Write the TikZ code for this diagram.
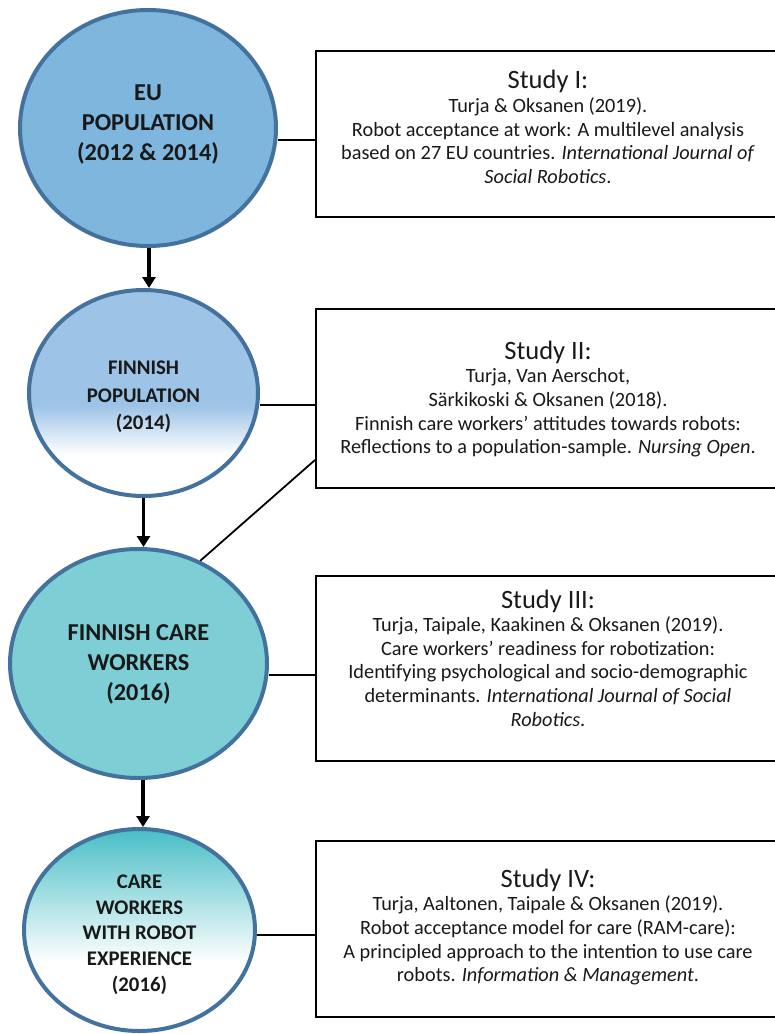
\documentclass[tikz,border=0pt]{standalone}
\usepackage{fontspec}
\setmainfont{Carlito}
\usetikzlibrary{shapes.geometric,arrows.meta}

\definecolor{rim}{RGB}{68,114,158}
\definecolor{eublue}{RGB}{126,182,222}
\definecolor{finblue}{RGB}{157,195,230}
\definecolor{careteal}{RGB}{126,206,213}
\definecolor{expteal}{RGB}{72,190,198}
\definecolor{ink}{RGB}{25,25,25}

% vertical fades: white at the bottom, colour at the top
\pgfdeclareverticalshading{finfade}{100bp}{color(0bp)=(white); color(35bp)=(white); color(47bp)=(finblue); color(100bp)=(finblue)}
\pgfdeclareverticalshading{expfade}{100bp}{color(0bp)=(white); color(42bp)=(white); color(75bp)=(expteal); color(100bp)=(expteal)}

\tikzset{
  group/.style={ellipse, draw=rim, line width=4pt, inner sep=0pt},
  grouptxt/.style={align=center, text=ink, inner sep=0pt},
  bigtxt/.style={grouptxt, font=\bfseries\fontsize{24.3}{30}\selectfont},
  smalltxt/.style={grouptxt, font=\bfseries\fontsize{20.8}{27.5}\selectfont},
  studybox/.style={rectangle, draw=black, line width=2pt, inner sep=0pt,
    minimum width=464pt},
  studytxt/.style={align=center, text=ink, inner sep=0pt,
    font=\fontsize{20.3}{23.6}\selectfont},
  link/.style={draw=black, line width=1.8pt},
  flow/.style={draw=black, line width=3.6pt, -{Triangle[length=11pt,width=13pt]}}
}
\newcommand{\studytitle}[1]{{\fontsize{26.5}{24}\selectfont #1}}

\begin{document}
\begin{tikzpicture}[x=1pt,y=-1pt]
\useasboundingbox (0,0) rectangle (775,1034);
\clip (0,0) rectangle (775,1034);
\fill[white] (0,0) rectangle (775,1034);

% sample groups
\node[group, fill=eublue, minimum width=256pt, minimum height=236pt]
  (c1) at (148,128) {};
\node[group, shading=finfade, minimum width=229pt, minimum height=206pt]
  (c2) at (143.5,393) {};
\node[group, fill=careteal, minimum width=257pt, minimum height=229pt]
  (c3) at (138.5,663.5) {};
\node[group, shading=expfade, minimum width=231pt, minimum height=202pt]
  (c4) at (139.5,930) {};

\node[bigtxt] (t1) at ([yshift=3.5pt]c1.center) {EU\\POPULATION\\(2012 \& 2014)};
\node[smalltxt] (t2) at ([yshift=-4pt]c2.center) {FINNISH\\POPULATION\\(2014)};
\node[bigtxt] (t3) at ([yshift=-1pt]c3.center) {FINNISH CARE\\WORKERS\\(2016)};
\node[smalltxt, font=\bfseries\fontsize{20.8}{25.7}\selectfont] (t4)
  at ([yshift=-4.5pt]c4.center) {CARE\\WORKERS\\WITH ROBOT\\EXPERIENCE\\(2016)};

% publications
\node[studybox, minimum height=166pt] (b1) at (548,134) {};
\node[studybox, minimum height=179pt] (b2) at (548,398.5) {};
\node[studybox, minimum height=185pt] (b3) at (548,668.5) {};
\node[studybox, minimum height=176pt] (b4) at (548,929) {};

\node[studytxt] (s1) at ([yshift=7pt]b1.center)
  {\studytitle{Study I:}\\
   Turja \& Oksanen (2019).\\
   Robot acceptance at work: A multilevel analysis\\
   based on 27 EU countries. \textit{International Journal of}\\
   \textit{Social Robotics}.};
\node[studytxt] (s2) at ([yshift=-0.5pt]b2.center)
  {\studytitle{Study II:}\\
   Turja, Van Aerschot,\\
   Särkikoski \& Oksanen (2018).\\
   Finnish care workers’ attitudes towards robots:\\
   Reflections to a population-sample. \textit{Nursing Open}.};
\node[studytxt] (s3) at ([yshift=10.5pt]b3.center)
  {\studytitle{Study III:}\\
   Turja, Taipale, Kaakinen \& Oksanen (2019).\\
   Care workers’ readiness for robotization:\\
   Identifying psychological and socio-demographic\\
   determinants. \textit{International Journal of Social}\\
   \textit{Robotics}.};
\node[studytxt] (s4) at ([yshift=2pt]b4.center)
  {\studytitle{Study IV:}\\
   Turja, Aaltonen, Taipale \& Oksanen (2019).\\
   Robot acceptance model for care (RAM-care):\\
   A principled approach to the intention to use care\\
   robots. \textit{Information \& Management}.};

% links from each group to its study
\coordinate (l1) at ([yshift=-6pt]b1.west);
\coordinate (l2) at ([yshift=-6.5pt]b2.west);
\coordinate (l3) at ([yshift=-6.5pt]b3.west);
\coordinate (l4) at ([yshift=-6pt]b4.west);
\coordinate (l5) at ([yshift=-61.5pt]b2.west);
\draw[link] (l1) -- (l1 -| c1.east);
\draw[link] (l2) -- (l2 -| c2.east);
\draw[link] (l3) -- (l3 -| c3.east);
\draw[link] (l4) -- (l4 -| c4.east);
\draw[link] (l5) -- (c3.59);

% flow between samples
\coordinate (a1) at ([xshift=1pt]c1.south);
\coordinate (a2) at (c2.south);
\coordinate (a3) at ([xshift=4.5pt]c3.south);
\draw[flow] (a1) -- (a1 |- c2.north);
\draw[flow] (a2) -- (a2 |- c3.north);
\draw[flow] (a3) -- (a3 |- c4.north);
\end{tikzpicture}
\end{document}
